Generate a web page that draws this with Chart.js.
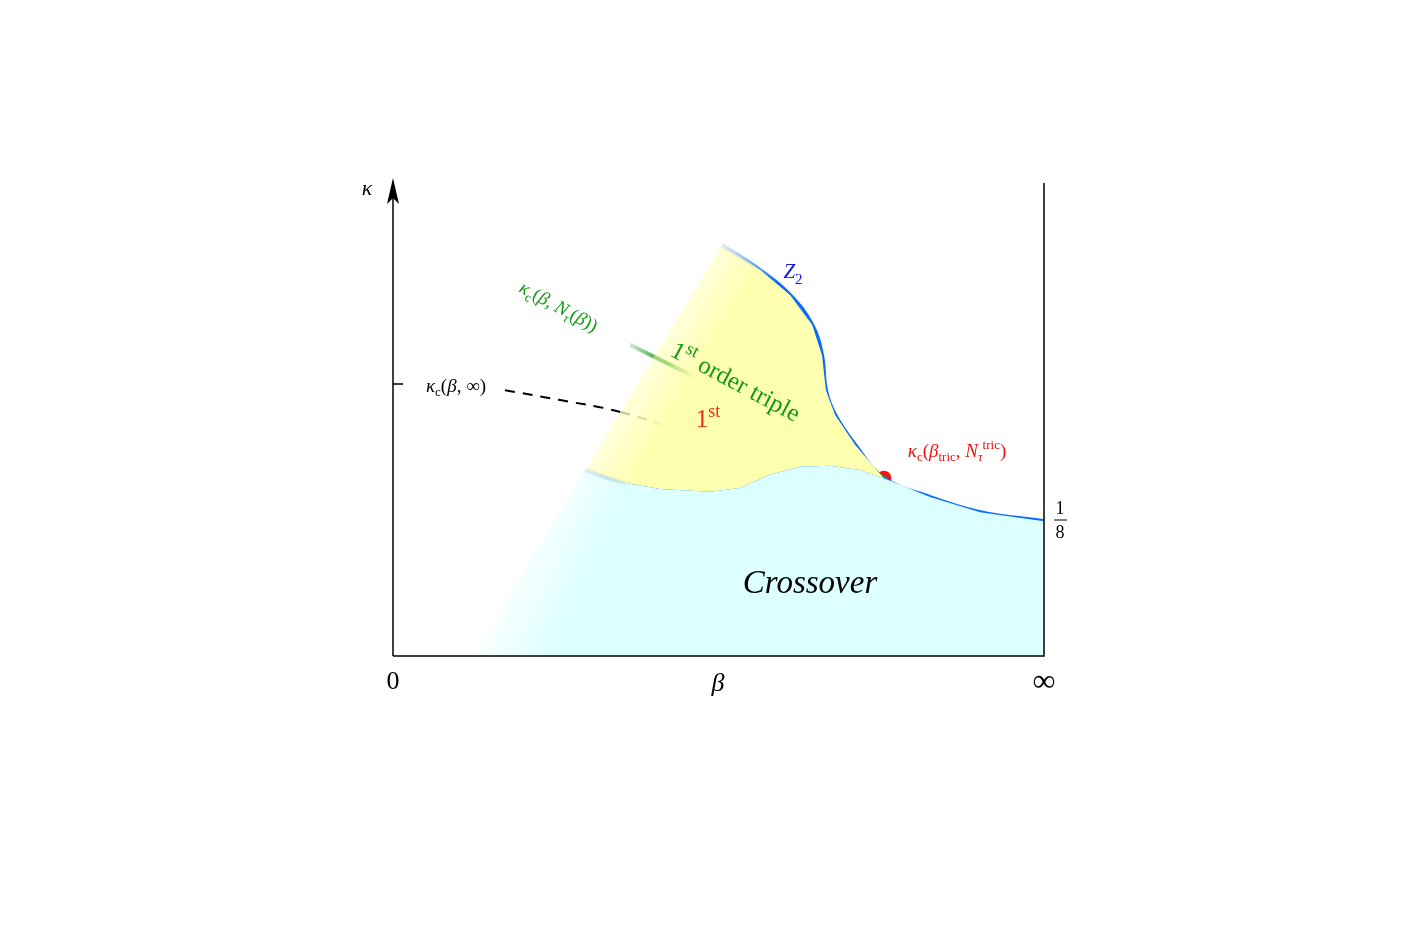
<!DOCTYPE html>
<html>
<head>
<meta charset="utf-8">
<script src="https://cdn.jsdelivr.net/npm/chart.js@4.4.0/dist/chart.umd.min.js"></script>
<style>body{margin:0;background:#fff}</style>
</head>
<body>
<canvas id="phaseChart" width="1418" height="945"></canvas>
<script>
// schematic units: beta 0..100 (0 .. infinity), kappa 0..100 (axis height)
const z2Beta = [50.5, 56.4, 61.0, 64.4, 65.9, 66.5, 67.9, 71.0, 75.4, 82.5, 90.2, 100];
const z2Kappa = [86.9, 81.6, 76.3, 70.0, 63.6, 56.2, 51.0, 44.6, 37.6, 33.6, 30.4, 28.5];
const lowBeta = [29.5, 34.9, 41.0, 48.7, 53.3, 57.9, 62.5, 67.1, 71.7, 75.4];
const lowKappa = [39.3, 36.8, 35.3, 34.7, 35.5, 38.3, 40.0, 40.2, 39.3, 37.6];
const tripleBeta = [36.4, 47.2, 56.4, 65.6, 75.4];
const tripleKappa = [65.8, 58.4, 52.0, 45.5, 37.6];
const infBeta = [17.2, 25.7, 34.9, 44.1, 53.3, 62.5, 71.7, 81.0, 90.2, 100];
const infKappa = [56.2, 54.1, 51.6, 47.4, 41.9, 36.2, 32.3, 29.8, 28.8, 28.5];
const tricBeta = [75.4];
const tricKappa = [37.6];

const pts = (xs, ys) => xs.map((x, i) => ({x: x, y: ys[i]}));

const yellowPts = pts(z2Beta.slice(0, 9), z2Kappa.slice(0, 9))
    .concat(pts(lowBeta.slice().reverse(), lowKappa.slice().reverse()));
const cyanPts = pts(lowBeta, lowKappa)
    .concat(pts(z2Beta.slice(9), z2Kappa.slice(9)))
    .concat([{x: 100, y: 0}, {x: 12, y: 0}]);

// plot area is fixed by the layout padding below
const L = 393, R = 1044, T = 183, B = 656;
const px = b => L + b * (R - L) / 100;
const py = k => B - k * (B - T) / 100;

function grad(chart, b0, k0, b1, k1, stops) {
    const g = chart.ctx.createLinearGradient(px(b0), py(k0), px(b1), py(k1));
    stops.forEach(s => g.addColorStop(s[0], s[1]));
    return g;
}

const SERIF = '"Liberation Serif", "DejaVu Serif", serif';

// draws text made of parts: [text, 'n'|'i'|'sub'|'subi'|'sup']
function rich(ctx, parts, x, y, size, color, rot) {
    ctx.save();
    ctx.translate(x, y);
    ctx.rotate(rot || 0);
    ctx.fillStyle = color;
    ctx.textBaseline = 'alphabetic';
    const fontFor = p => {
        const small = p[1].startsWith('sub') || p[1] === 'sup';
        const it = p[1] === 'i' || p[1] === 'subi';
        return (it ? 'italic ' : '') + Math.round(small ? size * 0.7 : size) + 'px ' + SERIF;
    };
    let w = 0;
    parts.forEach(p => { ctx.font = fontFor(p); w += ctx.measureText(p[0]).width; });
    let cx = -w / 2;
    parts.forEach(p => {
        ctx.font = fontFor(p);
        let dy = 0;
        if (p[1].startsWith('sub')) dy = size * 0.25;
        if (p[1] === 'sup') dy = -size * 0.4;
        ctx.fillText(p[0], cx, size * 0.35 + dy);
        cx += ctx.measureText(p[0]).width;
    });
    ctx.restore();
}

const decor = {
    id: 'decor',
    afterDraw(chart) {
        const c = chart.ctx;
        c.save();
        c.strokeStyle = '#000';
        c.lineWidth = 1.5;
        c.beginPath();
        c.moveTo(L, B); c.lineTo(L, 192);
        c.moveTo(L, B); c.lineTo(R, B); c.lineTo(R, T);
        c.moveTo(L, 384); c.lineTo(L + 10, 384);
        c.stroke();
        c.fillStyle = '#000';
        c.beginPath();
        c.moveTo(L, 178); c.lineTo(L - 6, 204); c.lineTo(L, 198); c.lineTo(L + 6, 204);
        c.closePath(); c.fill();
        c.beginPath(); c.lineWidth = 1; c.moveTo(1054, 520); c.lineTo(1067, 520); c.stroke();
        c.restore();

        rich(c, [['κ', 'i']], 367, 187, 22, '#000');
        rich(c, [['0', 'n']], 393, 680, 26, '#000');
        rich(c, [['β', 'i']], 718, 682, 26, '#000');
        rich(c, [['∞', 'n']], 1044, 680, 32, '#000');
        rich(c, [['1', 'n']], 1060, 508, 18, '#000');
        rich(c, [['8', 'n']], 1060, 532, 18, '#000');
        rich(c, [['κ', 'i'], ['c', 'sub'], ['(', 'n'], ['β', 'i'], [', ∞)', 'n']], 456, 385, 19, '#000');
        rich(c, [['Z', 'i'], ['2', 'sub']], 793, 271, 21, '#1515e0');
        rich(c, [['κ', 'i'], ['c', 'sub'], ['(', 'n'], ['β', 'i'], [', ', 'n'], ['N', 'i'], ['τ', 'subi'], ['(', 'n'], ['β', 'i'], ['))', 'n']],
            559, 306, 19, '#159a15', 0.5);
        rich(c, [['1', 'n'], ['st', 'sup'], [' order triple', 'n']], 736, 381, 25, '#159a15', 0.49);
        rich(c, [['1', 'n'], ['st', 'sup']], 708, 418, 25, '#f03010');
        rich(c, [['κ', 'i'], ['c', 'sub'], ['(', 'n'], ['β', 'i'], ['tric', 'sub'], [', ', 'n'], ['N', 'i'], ['τ', 'subi'], ['tric', 'sup'], [')', 'n']],
            957, 450, 19, '#f01010');
        rich(c, [['Crossover', 'i']], 810, 581, 33, '#000');
    }
};

new Chart(document.getElementById('phaseChart'), {
    type: 'scatter',
    data: {
        datasets: [
            {
                data: cyanPts, showLine: true, fill: 'shape', borderWidth: 0, pointRadius: 0, tension: 0,
                borderColor: 'rgba(0,0,0,0)',
                backgroundColor: c => grad(c.chart, 17, 18, 28, 11, [[0, 'rgba(220,255,255,0)'], [1, 'rgba(220,255,255,1)']])
            },
            {
                data: yellowPts, showLine: true, fill: 'shape', borderWidth: 0, pointRadius: 0, tension: 0,
                borderColor: 'rgba(0,0,0,0)',
                backgroundColor: c => grad(c.chart, 35, 67, 46, 58, [[0, 'rgba(255,255,176,0)'], [1, 'rgba(255,255,176,1)']])
            },
            {
                data: pts(infBeta, infKappa), showLine: true, pointRadius: 0, tension: 0.4,
                borderWidth: 2, borderDash: [10, 8], borderColor: '#000',
                segment: { borderColor: s => s.p0.parsed.x < 34 ? '#000' : (s.p0.parsed.x < 44 ? '#8a8a70' : '#a8bcc8') }
            },
            {
                data: pts(tripleBeta, tripleKappa), showLine: true, pointRadius: 0, tension: 0.3,
                borderWidth: 4, borderColor: c => grad(c.chart, 36.4, 0, 42, 0, [[0, 'rgba(21,154,21,0.2)'], [1, 'rgba(21,154,21,1)']])
            },
            {
                data: pts(lowBeta, lowKappa), showLine: true, pointRadius: 0, tension: 0.4,
                borderWidth: 4, borderColor: c => grad(c.chart, 29.5, 0, 37, 0, [[0, 'rgba(10,108,255,0.15)'], [1, 'rgba(10,108,255,1)']])
            },
            {
                data: pts(z2Beta, z2Kappa), showLine: true, pointRadius: 0, tension: 0.4,
                borderWidth: 4, borderColor: c => grad(c.chart, 0, 87, 0, 79, [[0, 'rgba(10,108,255,0.15)'], [1, 'rgba(10,108,255,1)']])
            },
            {
                data: pts(tricBeta, tricKappa), pointRadius: 7.5, pointBackgroundColor: '#ff1010', pointBorderWidth: 0
            }
        ]
    },
    options: {
        responsive: false,
        devicePixelRatio: 1,
        animation: false,
        layout: { padding: { left: 393, right: 374, top: 183, bottom: 289 } },
        plugins: { legend: { display: false }, tooltip: { enabled: false } },
        scales: {
            x: { type: 'linear', min: 0, max: 100, display: false },
            y: { type: 'linear', min: 0, max: 100, display: false }
        }
    },
    plugins: [decor]
});
</script>
</body>
</html>
